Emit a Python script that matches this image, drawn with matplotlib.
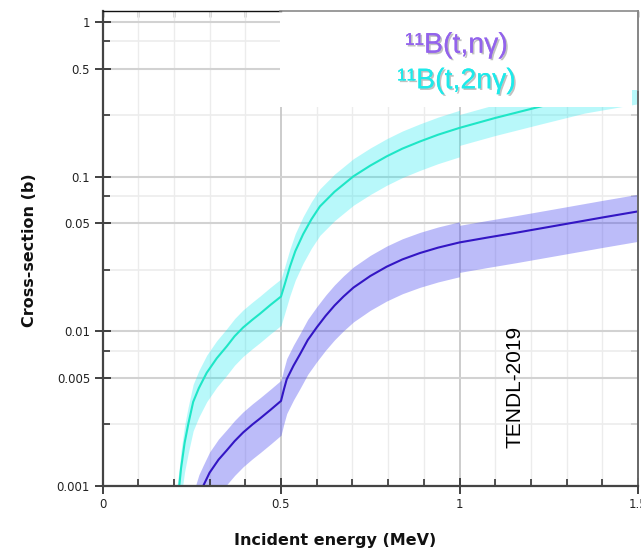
import matplotlib
matplotlib.use("Agg")
import matplotlib.pyplot as plt
import matplotlib.patheffects as pe
from matplotlib.patches import Rectangle
from matplotlib.lines import Line2D
from matplotlib.ticker import FixedLocator, NullFormatter, FixedFormatter

# ---- data: 11B(t,n gamma) ----
E_ng = [0.24, 0.259, 0.27, 0.282, 0.30, 0.325, 0.348, 0.37, 0.394, 0.42, 0.441, 0.47,
        0.50, 0.508, 0.516, 0.535, 0.553, 0.575, 0.60, 0.625, 0.65, 0.675, 0.703,
        0.75, 0.796, 0.84, 0.889, 0.94, 1.0, 1.0, 1.08, 1.16, 1.3, 1.4, 1.5]
xs_ng = [0.0004, 0.00072, 0.00087, 0.001, 0.00122, 0.00148, 0.0017, 0.00195, 0.00222,
         0.0025, 0.00273, 0.0031, 0.00355, 0.0042, 0.0049, 0.0060, 0.0071, 0.0088,
         0.0106, 0.0126, 0.0147, 0.0168, 0.0192, 0.0228, 0.0262, 0.0292, 0.0321,
         0.0348, 0.0376, 0.0376, 0.0405, 0.0435, 0.0496, 0.0545, 0.0597]
hi_ng = [1.36] * 29 + [1.29] * 6
lo_ng = [0.60] * 29 + [0.64] * 6

# ---- data: 11B(t,2n gamma) ----
E_2ng = [0.200, 0.208, 0.215, 0.22, 0.23, 0.24, 0.254, 0.27, 0.292, 0.32, 0.348,
         0.37, 0.394, 0.42, 0.441, 0.47, 0.50, 0.51, 0.525, 0.54, 0.562, 0.585,
         0.609, 0.65, 0.703, 0.75, 0.796, 0.84, 0.889, 0.94, 1.0, 1.0, 1.1, 1.22,
         1.35, 1.5]
xs_2ng = [0.0004, 0.00075, 0.001, 0.0013, 0.0019, 0.0025, 0.0035, 0.0043, 0.0054,
          0.0067, 0.0080, 0.0093, 0.0106, 0.0119, 0.0130, 0.0148, 0.0168, 0.0200,
          0.0262, 0.0330, 0.0425, 0.0530, 0.0643, 0.0800, 0.1007, 0.118, 0.1355,
          0.152, 0.169, 0.187, 0.207, 0.207, 0.240, 0.282, 0.335, 0.385]
hi_2ng = [1.30] * 31 + [1.22] * 5
lo_2ng = [0.65] * 31 + [0.77] * 5

x_major = [0, 0.5, 1, 1.5]
x_major_labels = ["0", "0.5", "1", "1.5"]
x_minor = [0.1, 0.2, 0.3, 0.4, 0.6, 0.7, 0.8, 0.9, 1.1, 1.2, 1.3, 1.4]
y_major = [0.001, 0.005, 0.01, 0.05, 0.1, 0.5, 1]
y_major_labels = ["0.001", "0.005", "0.01", "0.05", "0.1", "0.5", "1"]
y_minor = [0.0025, 0.0075, 0.025, 0.075, 0.25, 0.75]

W, H = 641, 551
fig = plt.figure(figsize=(W / 100, H / 100), dpi=100)
L, R, T, B = 102.5, 638, 11, 486
ax = fig.add_axes([L / W, 1 - B / H, (R - L) / W, (B - T) / H])

ax.set_yscale("log")
ax.set_xlim(0, 1.5)
ax.set_ylim(0.001, 1.18)

# grid lines
for v in x_minor:
    ax.axvline(v, color="#ececec", lw=1.0, zorder=0.5)
for v in [0.5, 1.0]:
    ax.axvline(v, color="#c4c4c4", lw=1.2, zorder=0.6)
for v in y_minor:
    ax.axhline(v, color="#ececec", lw=1.2, zorder=0.5)
for v in y_major:
    ax.axhline(v, color="#d2d2d2", lw=1.5, zorder=0.6)

# bands and lines
lo = [a * b for a, b in zip(xs_2ng, lo_2ng)]
hi = [a * b for a, b in zip(xs_2ng, hi_2ng)]
ax.fill_between(E_2ng, lo, hi, color="#00E8F0", alpha=0.28, lw=0, zorder=1)
ax.plot(E_2ng, xs_2ng, color="#1EE6C6", lw=1.5, zorder=1.5)

lo = [a * b for a, b in zip(xs_ng, lo_ng)]
hi = [a * b for a, b in zip(xs_ng, hi_ng)]
ax.fill_between(E_ng, lo, hi, color="#4040F0", alpha=0.35, lw=0, zorder=1)
ax.plot(E_ng, xs_ng, color="#3316C4", lw=1.5, zorder=1.5)

# ticks
ax.xaxis.set_major_locator(FixedLocator(x_major))
ax.xaxis.set_major_formatter(FixedFormatter(x_major_labels))
ax.xaxis.set_minor_locator(FixedLocator(x_minor))
ax.xaxis.set_minor_formatter(NullFormatter())
ax.yaxis.set_major_locator(FixedLocator(y_major))
ax.yaxis.set_major_formatter(FixedFormatter(y_major_labels))
ax.yaxis.set_minor_locator(FixedLocator(y_minor))
ax.yaxis.set_minor_formatter(NullFormatter())
ax.tick_params(which="major", direction="inout", length=12, width=1.3,
               color="#333333", labelsize=8.5, labelcolor="#222222", pad=3)
ax.tick_params(which="minor", direction="in", length=5, width=1.2, color="#333333")

for s in ["left", "bottom"]:
    ax.spines[s].set_color("#444444")
    ax.spines[s].set_linewidth(1.6)
ax.spines["top"].set_color("#111111")
ax.spines["top"].set_linewidth(1.0)
ax.spines["top"].set_bounds(0, 0.5)
ax.spines["right"].set_color("#666666")
ax.spines["right"].set_linewidth(1.4)

# secondary axes for inward top/right ticks
sx = ax.secondary_xaxis("top")
sx.xaxis.set_major_locator(FixedLocator(x_major))
sx.xaxis.set_minor_locator(FixedLocator(x_minor))
sx.xaxis.set_major_formatter(NullFormatter())
sx.xaxis.set_minor_formatter(NullFormatter())
sx.tick_params(which="both", direction="in", length=4, width=1.0, color="#333333")
sx.spines["top"].set_visible(False)
sy = ax.secondary_yaxis("right")
sy.yaxis.set_major_locator(FixedLocator(y_major))
sy.yaxis.set_minor_locator(FixedLocator(y_minor))
sy.yaxis.set_major_formatter(NullFormatter())
sy.yaxis.set_minor_formatter(NullFormatter())
sy.tick_params(which="both", direction="in", length=5, width=1.2, color="#333333")
sy.spines["right"].set_visible(False)

# white overlay box (top right)
bx0 = (280 - L) / (R - L)
bx1 = (632 - L) / (R - L)
by0 = (B - 107) / (B - T)
by1 = (B - 90) / (B - T)
ax.add_patch(Rectangle((bx0, by0), bx1 - bx0, 1 - by0 + 0.01, transform=ax.transAxes,
                       facecolor="white", edgecolor="none", zorder=2.2, clip_on=False))
ax.add_patch(Rectangle((bx1, by1), 1 - bx1, 1 - by1 + 0.01, transform=ax.transAxes,
                       facecolor="white", edgecolor="none", zorder=2.2, clip_on=False))
ax.add_line(Line2D([bx0, 1], [1, 1], transform=ax.transAxes, color="#8a8a8a",
                   lw=1.2, zorder=2.6, clip_on=False))
ax.add_line(Line2D([1, 1], [by1, 1], transform=ax.transAxes, color="#8a8a8a",
                   lw=1.4, zorder=2.6, clip_on=False))

shadow = [pe.withSimplePatchShadow(offset=(1.2, -1.2), shadow_rgbFace="#777777", alpha=0.45),
          pe.Normal()]
ax.text(0.661, 0.927, "¹¹B(t,nγ)", transform=ax.transAxes, ha="center", va="center",
        fontsize=20.5, family="Liberation Sans", color="#9363EC", zorder=3,
        path_effects=shadow)
ax.text(0.661, 0.852, "¹¹B(t,2nγ)", transform=ax.transAxes, ha="center", va="center",
        fontsize=20.5, family="Liberation Sans", color="#1EEAEA", zorder=3,
        path_effects=shadow)

ax.text(0.770, 0.208, "TENDL-2019", transform=ax.transAxes, ha="center", va="center",
        rotation=90, fontsize=15, family="Liberation Sans", color="black", zorder=3)

ax.set_xlabel("Incident energy (MeV)", fontsize=11.5, fontweight="bold", color="#111111")
ax.set_ylabel("Cross-section (b)", fontsize=11.5, fontweight="bold", color="#111111")
ax.xaxis.set_label_coords(0.434, -0.099)
ax.yaxis.set_label_coords(-0.122, 0.497)

fig.savefig("out.png", dpi=100)
